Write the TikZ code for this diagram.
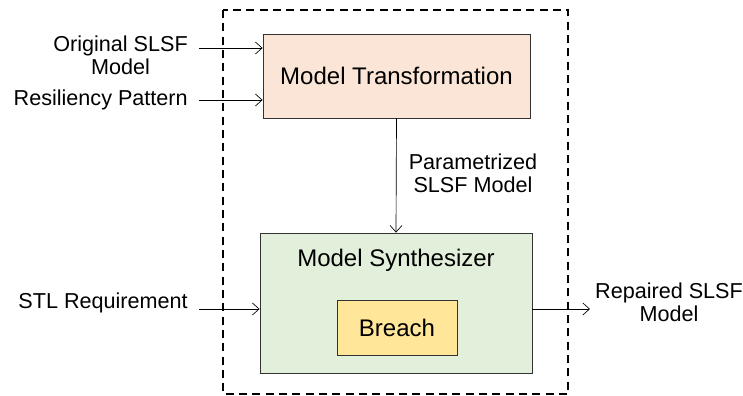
\documentclass[tikz,border=0pt]{standalone}
\usepackage{fontspec}
\setmainfont{Liberation Sans}
\usetikzlibrary{arrows.meta}
\definecolor{peach}{HTML}{FBE5D6}
\definecolor{mint}{HTML}{E2EFDA}
\definecolor{sand}{HTML}{FFE699}
\begin{document}
\begin{tikzpicture}[x=0.75pt,y=-0.75pt,
  blk/.style={draw=black!80,line width=0.6pt,inner sep=0pt},
  lbl/.style={font=\fontsize{16.2}{17}\selectfont,align=center,inner sep=0pt},
  big/.style={font=\fontsize{18}{20}\selectfont,inner sep=0pt},
  conn/.style={-{Straight Barb[length=5pt,width=9pt]},line width=0.5pt}]
\useasboundingbox (0,0) rectangle (743,396);
\draw[dashed,line width=1.2pt,dash pattern=on 6pt off 4pt] (223,10) rectangle (568,394);
\node[blk,fill=peach,minimum width=267*0.75pt,minimum height=84*0.75pt] (mt) at (396.5,76) {};
\node[big] at (mt.center) {Model Transformation};
\node[blk,fill=mint,minimum width=272*0.75pt,minimum height=140*0.75pt] (ms) at (396,303) {};
\node[big] (mst) at (396,260) {Model Synthesizer};
\node[blk,fill=sand,minimum width=120*0.75pt,minimum height=55*0.75pt] (br) at (397,327.5) {};
\node[big] at (br.center) {Breach};
\coordinate (i1) at (199,48);
\coordinate (i2) at (199,100);
\coordinate (i3) at (199,309);
\coordinate (o1) at (590,309);
\node[lbl,anchor=east] (t1) at (188,55) {Original SLSF\\Model};
\node[lbl,anchor=east] (t2) at (188,100) {Resiliency Pattern};
\node[lbl,anchor=east] (t3) at (188,303) {STL Requirement};
\node[lbl] (t4) at (669,302) {Repaired SLSF\\Model};
\node[lbl] (t5) at (473,173) {Parametrized\\SLSF Model};
\draw[conn] (i1) -- (i1 -| mt.west);
\draw[conn] (i2) -- (i2 -| mt.west);
\draw[conn] (i3) -- (i3 -| ms.west);
\draw[conn] (o1 -| ms.east) -- (o1);
\draw[conn] (mt.south) -- (ms.north);
\end{tikzpicture}
\end{document}
